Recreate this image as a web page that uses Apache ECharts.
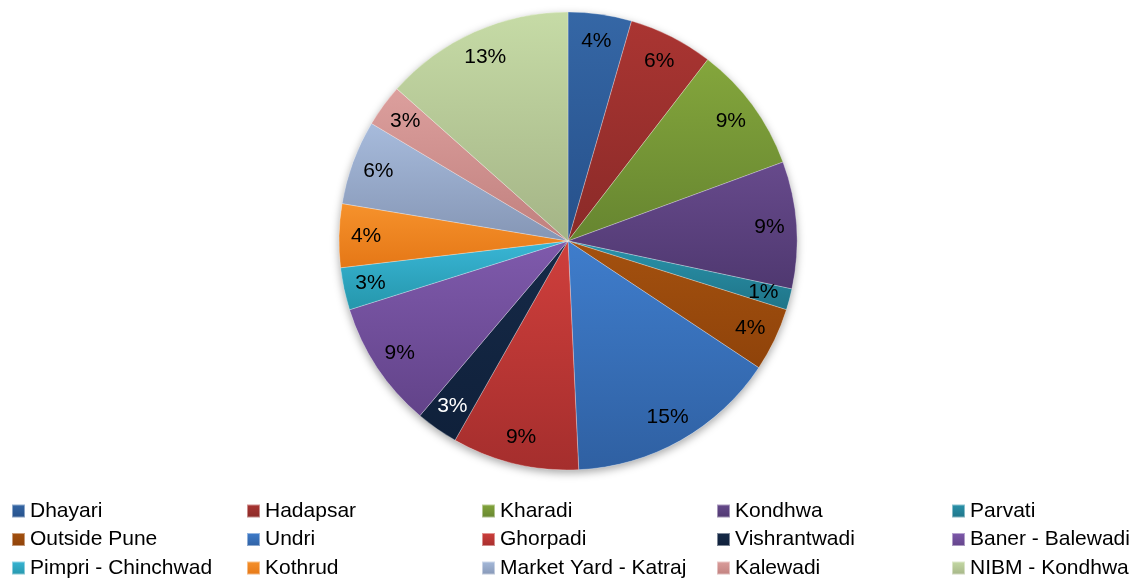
<!DOCTYPE html>
<html>
<head>
<meta charset="utf-8">
<script src="https://cdn.jsdelivr.net/npm/echarts@6/dist/echarts.min.js"></script>
<style>html,body{margin:0;padding:0;background:#fff;}#c{width:1138px;height:578px;}</style>
</head>
<body>
<div id="c"></div>
<script>
// Data
const districts = ['Dhayari','Hadapsar','Kharadi','Kondhwa','Parvati','Outside Pune','Undri','Ghorpadi','Vishrantwadi','Baner - Balewadi','Pimpri - Chinchwad','Kothrud','Market Yard - Katraj','Kalewadi','NIBM - Kondhwa'];
const counts = [3, 4, 6, 6, 1, 3, 10, 6, 2, 6, 2, 3, 4, 2, 9];

// Styles
const topColors = ['#3567a6','#aa3532','#84a63c','#674a8c','#2a93ab','#a4510f','#3f7dcc','#cf3f3c','#162a48','#7f5aac','#39b6d6','#f6922c','#a7bbdc','#dc9f9d','#c6dba6'];
const bottomColors = ['#26508a','#8a2a28','#668530','#4f3870','#1f7488','#8f430a','#2f60a2','#a52e2d','#0f203a','#624389','#2596ab','#e57716','#8596b5','#c0807e','#a4b486'];
const labelColors = districts.map((d, i) => i === 8 ? '#ffffff' : '#000000');

const FONT = '"Liberation Sans", Arial, sans-serif';
const center = [568, 241];
const R = 229;

function grad(i) {
  return new echarts.graphic.LinearGradient(0, 0, 0, 1, [
    { offset: 0, color: topColors[i] },
    { offset: 1, color: bottomColors[i] }
  ]);
}

const pieData = districts.map((name, i) => ({
  name, value: counts[i],
  itemStyle: { color: grad(i) }
}));
const labelData = districts.map((name, i) => ({
  name, value: counts[i],
  label: { color: labelColors[i] }
}));

const legends = [0,1,2,3,4].map(col => ({
  orient: 'vertical',
  left: 11 + col * 235,
  top: 500.5,
  height: 140,
  padding: 0,
  itemWidth: 13,
  itemHeight: 13,
  itemGap: 7.5,
  icon: 'rect',
  selectedMode: false,
  textStyle: { fontFamily: FONT, fontSize: 21, color: '#000', lineHeight: 21 },
  data: [col, col + 5, col + 10].map(i => districts[i])
}));

const chart = echarts.init(document.getElementById('c'), null, { renderer: 'canvas' });
chart.setOption({
  animation: false,
  backgroundColor: '#ffffff',
  legend: legends,
  series: [
    {
      type: 'pie',
      silent: true,
      center: center,
      radius: [0, R],
      data: [{ value: 1, name: '__bg', itemStyle: { color: '#ffffff', shadowBlur: 8, shadowOffsetY: 3, shadowColor: 'rgba(0,0,0,0.35)' } }],
      label: { show: false },
      labelLine: { show: false },
      emphasis: { disabled: true }
    },
    {
      type: 'pie',
      center: center,
      radius: [0, R],
      startAngle: 90,
      clockwise: true,
      data: pieData,
      itemStyle: { borderColor: 'rgba(255,255,255,0.45)', borderWidth: 0.6 },
      label: { show: false },
      labelLine: { show: false },
      emphasis: { disabled: true }
    },
    {
      type: 'pie',
      silent: true,
      center: center,
      radius: [170, 228],
      startAngle: 90,
      clockwise: true,
      data: labelData,
      itemStyle: { color: 'rgba(0,0,0,0)' },
      label: {
        show: true,
        position: 'inside',
        fontFamily: FONT,
        fontSize: 21,
        formatter: p => Math.round(p.percent) + '%'
      },
      labelLine: { show: false },
      emphasis: { disabled: true }
    }
  ]
});
</script>
</body>
</html>
